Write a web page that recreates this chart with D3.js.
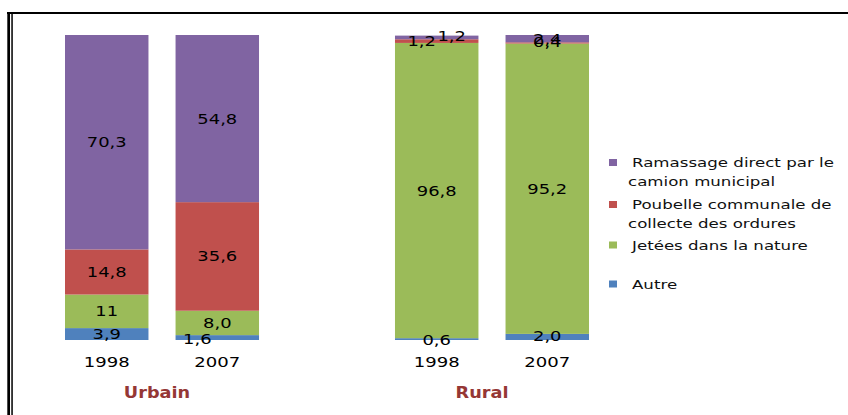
<!DOCTYPE html>
<html><head><meta charset="utf-8">
<script src="https://cdn.jsdelivr.net/npm/d3@7"></script>
<style>body{margin:0;background:#fff}svg{display:block}</style>
</head><body>
<script>
const groups = ["Urbain", "Rural"];
const years = ["1998", "2007"];
const seriesNames = ["Autre", "Jetées dans la nature", "Poubelle communale de collecte des ordures", "Ramassage direct par le camion municipal"];
const legendLines = [["Ramassage direct par le", "camion municipal"], ["Poubelle communale de", "collecte des ordures"], ["Jetées dans la nature"], ["Autre"]];
// values per bar, order: Autre, Jetées, Poubelle, Ramassage
const urbain1998 = [3.9, 11, 14.8, 70.3];
const urbain2007 = [1.6, 8.0, 35.6, 54.8];
const rural1998 = [0.6, 96.8, 1.2, 1.2];
const rural2007 = [2.0, 95.2, 0.4, 2.4];
const valueLabels = {
  "Urbain-1998": ["3,9", "11", "14,8", "70,3"],
  "Urbain-2007": ["1,6", "8,0", "35,6", "54,8"],
  "Rural-1998": ["0,6", "96,8", "1,2", "1,2"],
  "Rural-2007": ["2,0", "95,2", "0,4", "2,4"]
};
const colors = ["#4F81BD", "#9BBB59", "#C0504D", "#8064A2"];

const bars = [
  {group: "Urbain", year: "1998", values: urbain1998},
  {group: "Urbain", year: "2007", values: urbain2007},
  {group: "Rural", year: "1998", values: rural1998},
  {group: "Rural", year: "2007", values: rural2007}
];

// label nudges (style only)
const nudge = {
  "Urbain-2007-0": [-20, 1],
  "Rural-1998-0": [0, 1],
  "Rural-1998-2": [-15, 0],
  "Rural-1998-3": [15, -1],
  "Rural-2007-0": [0, -1],
  "Rural-2007-2": [0, -1],
  "Rural-2007-3": [0, 0]
};

const W = 848, H = 415;
const svg = d3.select("body").append("svg").attr("width", W).attr("height", H);

// frame
svg.append("rect").attr("x", 7).attr("y", 12).attr("width", W - 7).attr("height", 2).attr("fill", "#000");
svg.append("rect").attr("x", 7.3).attr("y", 12).attr("width", 2.7).attr("height", H - 12).attr("fill", "#000");
svg.append("rect").attr("x", 11.3).attr("y", 14).attr("width", 1.5).attr("height", H - 14).attr("fill", "#000");

const xOuter = d3.scaleBand().domain(groups).range([65, 589]).paddingInner(0.412).paddingOuter(0);
const xInner = d3.scaleBand().domain(years).range([0, xOuter.bandwidth()]).paddingInner(0.245).paddingOuter(0);
const y = d3.scaleLinear().domain([0, 100]).range([340, 35]);

function stretch(sel, f) {
  sel.each(function() {
    const n = this.getComputedTextLength();
    d3.select(this).attr("textLength", n * f).attr("lengthAdjust", "spacingAndGlyphs");
  });
}

const font = "'DejaVu Sans', Verdana, sans-serif";

bars.forEach(b => {
  const x0 = xOuter(b.group) + xInner(b.year);
  const bw = xInner.bandwidth();
  const stack = d3.cumsum(b.values);
  const g = svg.append("g");
  b.values.forEach((v, i) => {
    const top = stack[i], bot = stack[i] - v;
    g.append("rect").attr("x", x0).attr("width", bw)
      .attr("y", y(top)).attr("height", y(bot) - y(top)).attr("fill", colors[i]);
  });
  const key = b.group + "-" + b.year;
  b.values.forEach((v, i) => {
    const top = stack[i], bot = stack[i] - v;
    const nd = nudge[key + "-" + i] || [0, 0];
    const t = g.append("text").attr("x", x0 + bw / 2 + nd[0]).attr("y", (y(top) + y(bot)) / 2 + nd[1])
      .attr("text-anchor", "middle").attr("dy", "0.36em")
      .attr("font-family", font).attr("font-size", 14).attr("fill", "#000")
      .text(valueLabels[key][i]);
    stretch(t, 1.28);
  });
  const yl = svg.append("text").attr("x", x0 + bw / 2).attr("y", 366.5).attr("text-anchor", "middle")
    .attr("font-family", font).attr("font-size", 14).attr("fill", "#000").text(b.year);
  stretch(yl, 1.29);
});

const groupNudge = {"Urbain": -5, "Rural": -10};
groups.forEach(gname => {
  const t = svg.append("text").attr("x", xOuter(gname) + xOuter.bandwidth() / 2 + groupNudge[gname]).attr("y", 398)
    .attr("text-anchor", "middle").attr("font-family", font).attr("font-weight", "bold")
    .attr("font-size", 15).attr("fill", "#953735").text(gname);
  stretch(t, 1.18);
});

// legend
const legendY = [162.5, 204.5, 245, 284];
const legendOrder = [3, 2, 1, 0];
legendLines.forEach((lines, k) => {
  const si = legendOrder[k];
  const cy = legendY[k];
  svg.append("rect").attr("x", 609).attr("y", cy - 3.5).attr("width", 8).attr("height", 7).attr("fill", colors[si]);
  lines.forEach((ln, j) => {
    const t = svg.append("text").attr("x", j === 0 ? 632 : 628).attr("y", cy + j * 19).attr("dy", "0.36em")
      .attr("font-family", font).attr("font-size", 12.5).attr("fill", "#111").text(ln);
    stretch(t, 1.33);
  });
});
</script>
</body></html>
